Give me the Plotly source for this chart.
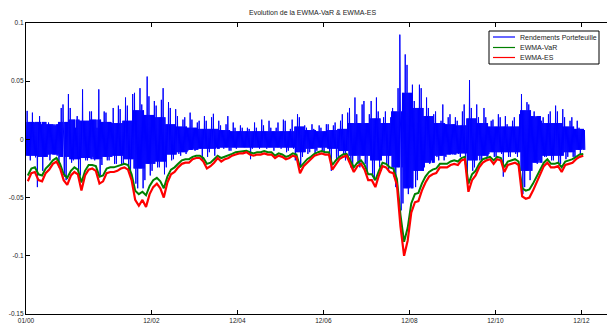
import pandas as pd
import plotly.graph_objects as go

# ---------------- data (monthly resolution) ----------------
start = "2000-01-01"

# monthly maximum / minimum of the daily portfolio returns
ret_max = [0.0245, 0.023, 0.0145, 0.020, 0.013, 0.013, 0.0145, 0.012, 0.012, 0.027,
           0.030, 0.039, 0.027, 0.010, 0.020, 0.043, 0.016, 0.024, 0.024, 0.010,
           0.043, 0.024, 0.023, 0.0145, 0.027, 0.029, 0.026, 0.036, 0.029, 0.039,
           0.040, 0.044, 0.030, 0.054, 0.037, 0.033, 0.029, 0.034, 0.044, 0.032,
           0.027, 0.026, 0.020, 0.017, 0.019, 0.023, 0.017, 0.0145, 0.016, 0.020,
           0.016, 0.019, 0.022, 0.016, 0.012, 0.013, 0.020, 0.0145, 0.010, 0.012,
           0.010, 0.010, 0.009, 0.0145, 0.010, 0.017, 0.012, 0.016, 0.010, 0.010,
           0.0145, 0.017, 0.016, 0.009, 0.017, 0.0216, 0.019, 0.012, 0.010, 0.013,
           0.009, 0.012, 0.010, 0.013, 0.013, 0.012, 0.0145, 0.016, 0.0216, 0.023,
           0.027, 0.036, 0.0216, 0.030, 0.033, 0.0216, 0.033, 0.036, 0.024, 0.019,
           0.024, 0.019, 0.027, 0.044, 0.090, 0.073, 0.064, 0.047, 0.033, 0.047,
           0.044, 0.036, 0.027, 0.0216, 0.024, 0.016, 0.030, 0.019, 0.0216, 0.019,
           0.016, 0.024, 0.030, 0.051, 0.027, 0.030, 0.019, 0.027, 0.019, 0.016,
           0.017, 0.0216, 0.019, 0.020, 0.013, 0.016, 0.019, 0.0216, 0.039, 0.032,
           0.030, 0.024, 0.019, 0.016, 0.019, 0.0216, 0.024, 0.029, 0.024, 0.026,
           0.019, 0.016, 0.019, 0.016, 0.010, 0.008]

ret_min = [-0.014, -0.018, -0.0154, -0.041, -0.027, -0.015, -0.018, -0.0125, -0.014, -0.024,
           -0.032, -0.035, -0.020, -0.018, -0.027, -0.031, -0.018, -0.018, -0.015, -0.018,
           -0.031, -0.022, -0.018, -0.018, -0.021, -0.021, -0.022, -0.022, -0.027, -0.034,
           -0.038, -0.042, -0.042, -0.035, -0.031, -0.027, -0.024, -0.024, -0.030, -0.024,
           -0.018, -0.017, -0.0125, -0.014, -0.0125, -0.0097, -0.008, -0.0097, -0.008, -0.018,
           -0.015, -0.011, -0.014, -0.007, -0.007, -0.008, -0.0097, -0.0097, -0.008, -0.007,
           -0.007, -0.007, -0.017, -0.008, -0.007, -0.008, -0.007, -0.008, -0.007, -0.0097,
           -0.007, -0.008, -0.011, -0.0097, -0.008, -0.018, -0.024, -0.015, -0.0125, -0.011,
           -0.0125, -0.0097, -0.0097, -0.011, -0.0125, -0.027, -0.018, -0.015, -0.0125, -0.018,
           -0.024, -0.027, -0.021, -0.024, -0.021, -0.027, -0.032, -0.035, -0.024, -0.018,
           -0.021, -0.027, -0.032, -0.041, -0.061, -0.055, -0.047, -0.041, -0.041, -0.035,
           -0.027, -0.024, -0.021, -0.018, -0.015, -0.018, -0.018, -0.015, -0.0125, -0.0125,
           -0.0125, -0.015, -0.024, -0.032, -0.027, -0.024, -0.018, -0.018, -0.015, -0.0125,
           -0.015, -0.015, -0.0125, -0.032, -0.015, -0.015, -0.0125, -0.015, -0.047, -0.041,
           -0.035, -0.027, -0.021, -0.018, -0.015, -0.015, -0.018, -0.018, -0.021, -0.021,
           -0.017, -0.015, -0.015, -0.015, -0.0125, -0.008]

# typical (dense core) daily range per quarter
core_up = [0.015, 0.015, 0.013, 0.015, 0.017, 0.016, 0.017, 0.015,
           0.014, 0.016, 0.025, 0.021, 0.019, 0.013, 0.011, 0.010,
           0.009, 0.009, 0.008, 0.007, 0.007, 0.007, 0.007, 0.007,
           0.007, 0.011, 0.008, 0.007, 0.008, 0.009, 0.014, 0.014,
           0.018, 0.014, 0.024, 0.040, 0.027, 0.020, 0.014, 0.013,
           0.012, 0.018, 0.014, 0.011, 0.011, 0.011, 0.025, 0.020,
           0.014, 0.014, 0.011, 0.009]
core_dn = [-0.014, -0.015, -0.013, -0.015, -0.017, -0.016, -0.017, -0.015,
           -0.014, -0.017, -0.025, -0.021, -0.019, -0.013, -0.011, -0.009,
           -0.008, -0.008, -0.007, -0.007, -0.007, -0.007, -0.007, -0.007,
           -0.007, -0.011, -0.008, -0.007, -0.008, -0.010, -0.014, -0.014,
           -0.018, -0.014, -0.024, -0.042, -0.027, -0.020, -0.014, -0.013,
           -0.012, -0.018, -0.014, -0.011, -0.011, -0.011, -0.027, -0.020,
           -0.014, -0.014, -0.011, -0.009]

ewma_var = [-0.031, -0.025, -0.024, -0.030, -0.031, -0.025, -0.022, -0.018, -0.016, -0.021,
            -0.030, -0.033, -0.027, -0.024, -0.026, -0.037, -0.027, -0.022, -0.022, -0.023,
            -0.032, -0.031, -0.025, -0.024, -0.024, -0.023, -0.022, -0.021, -0.022, -0.030,
            -0.044, -0.047, -0.045, -0.048, -0.040, -0.035, -0.033, -0.036, -0.042, -0.032,
            -0.026, -0.024, -0.021, -0.018, -0.017, -0.017, -0.015, -0.014, -0.014, -0.016,
            -0.021, -0.020, -0.017, -0.014, -0.016, -0.015, -0.014, -0.0125, -0.011, -0.0105,
            -0.010, -0.0097, -0.011, -0.012, -0.011, -0.011, -0.010, -0.011, -0.011, -0.014,
            -0.012, -0.013, -0.015, -0.014, -0.012, -0.013, -0.024, -0.020, -0.017, -0.015,
            -0.0125, -0.011, -0.010, -0.011, -0.011, -0.022, -0.018, -0.015, -0.013, -0.0125,
            -0.018, -0.024, -0.020, -0.018, -0.022, -0.030, -0.030, -0.035, -0.027, -0.020,
            -0.021, -0.024, -0.025, -0.034, -0.065, -0.088, -0.076, -0.055, -0.047, -0.046,
            -0.038, -0.032, -0.028, -0.026, -0.025, -0.021, -0.021, -0.021, -0.019, -0.018,
            -0.019, -0.016, -0.015, -0.038, -0.030, -0.027, -0.021, -0.017, -0.016, -0.015,
            -0.018, -0.015, -0.016, -0.024, -0.019, -0.018, -0.017, -0.019, -0.042, -0.044,
            -0.043, -0.038, -0.032, -0.027, -0.020, -0.017, -0.021, -0.021, -0.020, -0.024,
            -0.019, -0.018, -0.017, -0.015, -0.013, -0.0125]

ewma_es = [-0.036, -0.029, -0.028, -0.035, -0.036, -0.029, -0.026, -0.021, -0.019, -0.025,
           -0.035, -0.039, -0.031, -0.028, -0.030, -0.044, -0.031, -0.026, -0.025, -0.027,
           -0.038, -0.036, -0.029, -0.028, -0.028, -0.027, -0.025, -0.024, -0.026, -0.035,
           -0.052, -0.057, -0.052, -0.058, -0.047, -0.041, -0.038, -0.042, -0.050, -0.037,
           -0.030, -0.028, -0.024, -0.021, -0.020, -0.020, -0.017, -0.016, -0.016, -0.019,
           -0.025, -0.023, -0.020, -0.016, -0.019, -0.017, -0.016, -0.014, -0.013, -0.012,
           -0.012, -0.011, -0.013, -0.014, -0.013, -0.013, -0.012, -0.013, -0.013, -0.016,
           -0.014, -0.015, -0.017, -0.016, -0.014, -0.015, -0.029, -0.023, -0.020, -0.017,
           -0.014, -0.013, -0.012, -0.013, -0.013, -0.026, -0.021, -0.017, -0.015, -0.014,
           -0.021, -0.028, -0.023, -0.021, -0.026, -0.035, -0.035, -0.041, -0.031, -0.023,
           -0.024, -0.028, -0.029, -0.039, -0.075, -0.100, -0.087, -0.063, -0.054, -0.053,
           -0.044, -0.037, -0.032, -0.030, -0.029, -0.024, -0.024, -0.024, -0.022, -0.021,
           -0.022, -0.018, -0.017, -0.045, -0.035, -0.031, -0.024, -0.020, -0.018, -0.017,
           -0.021, -0.017, -0.018, -0.028, -0.022, -0.021, -0.020, -0.022, -0.049, -0.051,
           -0.050, -0.044, -0.037, -0.031, -0.023, -0.020, -0.024, -0.024, -0.023, -0.028,
           -0.022, -0.021, -0.020, -0.017, -0.015, -0.014]

x_tick_dates = ["2000-01-01", "2002-12-01", "2004-12-01", "2006-12-01",
                "2008-12-01", "2010-12-01", "2012-12-01"]
x_tick_text = ["01/00", "12/02", "12/04", "12/06", "12/08", "12/10", "12/12"]
y_tick_vals = [-0.15, -0.1, -0.05, 0, 0.05, 0.1]
y_tick_text = ["-0.15", "-0.1", "-0.05", "0", "0.05", "0.1"]

title_text = "Evolution de la EWMA-VaR & EWMA-ES"
legend_names = ["Rendements Portefeuille", "EWMA-VaR", "EWMA-ES"]
colors = ["#0000FF", "#008000", "#FF0000"]

# ---------------- build series ----------------
months = pd.date_range(start, periods=len(ewma_var), freq="MS")
mlen = months.days_in_month

bx, by = [], []
for i, m0 in enumerate(months):
    q = i // 3
    if i % 2 == 0:
        seq = [core_up[q], core_dn[q], ret_max[i], core_dn[q], core_up[q], ret_min[i],
               core_up[q], core_dn[q]]
    else:
        seq = [core_up[q], ret_min[i], core_up[q], core_dn[q], core_up[q], core_dn[q],
               ret_max[i], core_dn[q]]
    for k, v in enumerate(seq):
        bx.append(m0 + pd.Timedelta(days=(k + 0.5) / len(seq) * mlen[i]))
        by.append(v)

mid = [m0 + pd.Timedelta(days=0.5 * mlen[i]) for i, m0 in enumerate(months)]

fig = go.Figure()
fig.add_trace(go.Scatter(x=bx, y=by, mode="lines", line=dict(color=colors[0], width=1),
                         name=legend_names[0], showlegend=False))
fig.add_trace(go.Scatter(x=mid, y=ewma_var, mode="lines", line=dict(color=colors[1], width=2),
                         name=legend_names[1], showlegend=False))
fig.add_trace(go.Scatter(x=mid, y=ewma_es, mode="lines", line=dict(color=colors[2], width=2.2),
                         name=legend_names[2], showlegend=False))

# ---------------- layout ----------------
W, H = 607, 325
L, R, T, B = 26, 0, 23, 11
pw, ph = W - L - R, H - T - B


def px(x):
    return (x - L) / pw


def py(y):
    return (H - B - y) / ph


font = "Liberation Sans, Arial, Helvetica, sans-serif"

fig.update_layout(
    width=W, height=H,
    margin=dict(l=L, r=R, t=T, b=B),
    plot_bgcolor="white", paper_bgcolor="white",
    showlegend=False,
    font=dict(family=font, size=7, color="#222222"),
)
fig.update_xaxes(type="date", range=["2000-01-01", "2013-07-06"],
                 tickvals=x_tick_dates, ticktext=x_tick_text,
                 ticks="inside", ticklen=4, tickwidth=1, tickcolor="black",
                 showline=True, linecolor="black", linewidth=1.2, mirror="ticks",
                 showgrid=False, zeroline=False,
                 tickfont=dict(size=6.5, family=font, color="#222222"))
fig.update_yaxes(range=[-0.15, 0.1], tickvals=y_tick_vals, ticktext=y_tick_text,
                 ticks="inside", ticklen=4, tickwidth=1, tickcolor="black",
                 showline=True, linecolor="black", linewidth=1.2,
                 showgrid=False, zeroline=False,
                 tickfont=dict(size=6.5, family=font, color="#222222"))

# title
fig.add_annotation(text=title_text, xref="paper", yref="paper", x=px(312), y=py(13),
                   xanchor="center", yanchor="middle", showarrow=False,
                   font=dict(size=7, family=font, color="#222222"))

# legend box (MATLAB style)
fig.add_shape(type="rect", xref="paper", yref="paper",
              x0=px(489), x1=px(599), y0=py(64), y1=py(31),
              line=dict(color="black", width=1), fillcolor="white", layer="above")
for j, yy in enumerate([37, 47.5, 57.5]):
    fig.add_shape(type="line", xref="paper", yref="paper",
                  x0=px(493), x1=px(515), y0=py(yy), y1=py(yy),
                  line=dict(color=colors[j], width=1.2), layer="above")
    fig.add_annotation(text=legend_names[j], xref="paper", yref="paper",
                       x=px(518), y=py(yy), xanchor="left", yanchor="middle",
                       showarrow=False, font=dict(size=7, family=font, color="#222222"))

fig.write_html("out.html")
